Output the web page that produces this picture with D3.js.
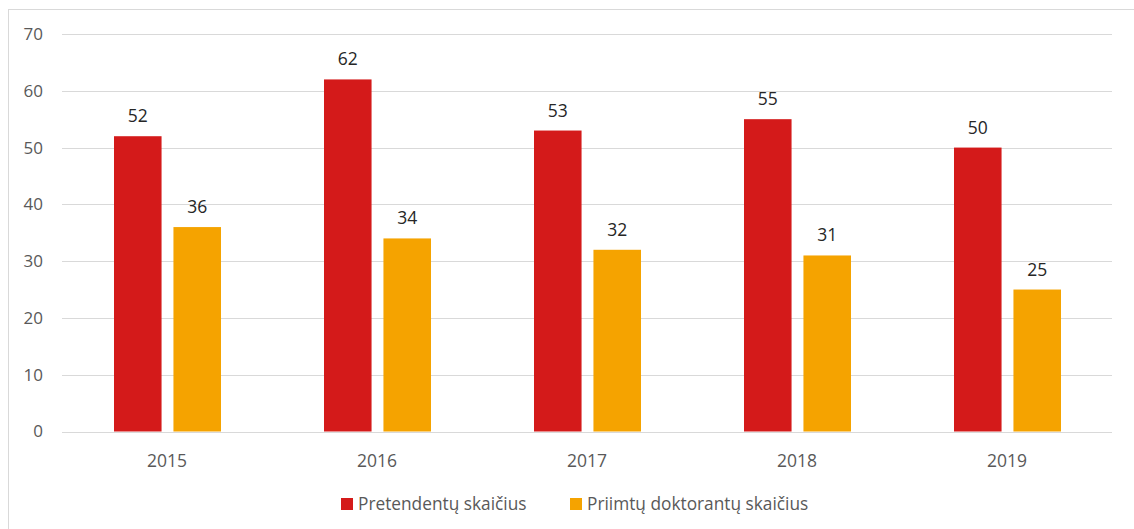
<!DOCTYPE html>
<html>
<head>
<meta charset="utf-8">
<script src="https://cdn.jsdelivr.net/npm/d3@7"></script>
<style>
  body { margin: 0; background: #fff; }
  svg { display: block; font-family: "Open Sans", sans-serif; }
</style>
</head>
<body>
<svg id="chart" width="1134" height="529"></svg>
<script>
// data
const years = ["2015", "2016", "2017", "2018", "2019"];
const pretendentai = [52, 62, 53, 55, 50];
const priimti = [36, 34, 32, 31, 25];
const seriesNames = ["Pretendentų skaičius", "Priimtų doktorantų skaičius"];
const seriesColors = ["#d41a1a", "#f5a300"];
const yTicks = [0, 10, 20, 30, 40, 50, 60, 70];

const svg = d3.select("#chart");
const margin = { top: 34, left: 62, right: 22, bottom: 97 };
const width = 1134, height = 529;

// chart border
svg.append("rect")
  .attr("x", 8.5).attr("y", 9.5)
  .attr("width", width).attr("height", height)
  .attr("fill", "none").attr("stroke", "#d9d9d9");

const x = d3.scaleBand()
  .domain(years)
  .range([margin.left, width - margin.right]);

const x1 = d3.scaleBand()
  .domain([0, 1])
  .range([52, 159])
  .paddingInner(0.2);

const y = d3.scaleLinear()
  .domain([0, 70])
  .range([height - margin.bottom - 0.5, margin.top]);

// grid
svg.append("g")
  .selectAll("line")
  .data(yTicks)
  .enter().append("line")
    .attr("x1", margin.left).attr("x2", width - margin.right)
    .attr("y1", d => Math.round(y(d)) + 0.5)
    .attr("y2", d => Math.round(y(d)) + 0.5)
    .attr("stroke", "#d9d9d9")
    .attr("stroke-width", 1);

// y tick labels
svg.append("g")
  .selectAll("text")
  .data(yTicks)
  .enter().append("text")
    .attr("x", 43)
    .attr("y", d => y(d))
    .attr("dy", "0.35em")
    .attr("text-anchor", "end")
    .attr("font-size", 17)
    .attr("fill", "#595959")
    .text(d => d);

// x labels
svg.append("g")
  .selectAll("text")
  .data(years)
  .enter().append("text")
    .attr("x", d => x(d) + x.bandwidth() / 2)
    .attr("y", 467)
    .attr("text-anchor", "middle")
    .attr("font-size", 17.5)
    .attr("fill", "#595959")
    .text(d => d);

const allSeries = [pretendentai, priimti];

allSeries.forEach((vals, si) => {
  const g = svg.append("g");
  g.selectAll("rect")
    .data(vals)
    .enter().append("rect")
      .attr("x", (d, i) => x(years[i]) + x1(si))
      .attr("y", d => y(d))
      .attr("width", x1.bandwidth())
      .attr("height", d => y(0) - y(d))
      .attr("fill", seriesColors[si]);

  g.selectAll("text")
    .data(vals)
    .enter().append("text")
      .attr("x", (d, i) => x(years[i]) + x1(si) + x1.bandwidth() / 2)
      .attr("y", d => y(d) - 14)
      .attr("text-anchor", "middle")
      .attr("font-size", 17.5)
      .attr("fill", "#262626")
      .text(d => d);
});

// legend
const legendX = [341, 570];
const legend = svg.append("g");
seriesNames.forEach((name, i) => {
  legend.append("rect")
    .attr("x", legendX[i]).attr("y", 498)
    .attr("width", 12).attr("height", 12)
    .attr("fill", seriesColors[i]);
  legend.append("text")
    .attr("x", legendX[i] + 17)
    .attr("y", 504)
    .attr("dy", "0.35em")
    .attr("font-size", 17.3)
    .attr("fill", "#595959")
    .text(name);
});
</script>
</body>
</html>
